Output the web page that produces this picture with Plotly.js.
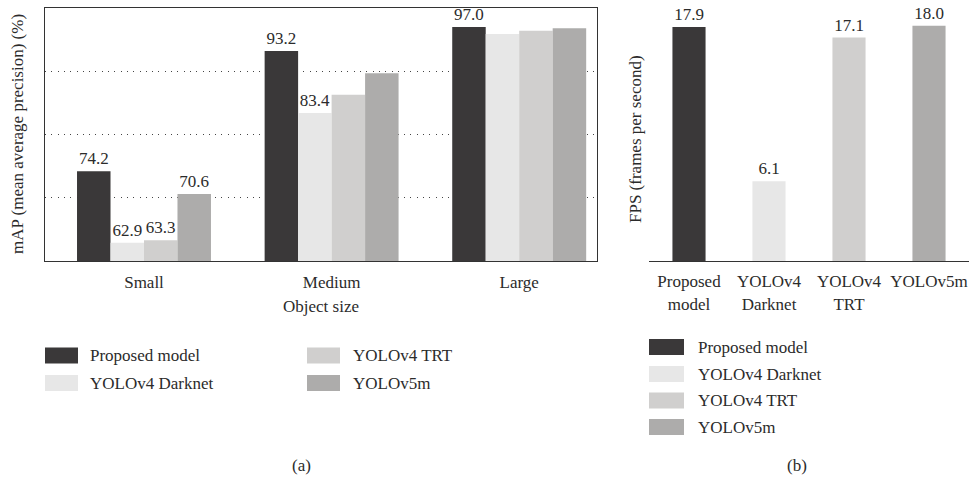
<!DOCTYPE html>
<html><head><meta charset="utf-8">
<script src="https://cdn.plot.ly/plotly-3.0.1.min.js"></script>
<style>html,body{margin:0;padding:0;background:#fff}</style>
</head><body><div id="chart" style="width:969px;height:479px"></div>
<script>
// ---- data ----
const sizeCategories = ['Small', 'Medium', 'Large'];
const seriesNames = ['Proposed model', 'YOLOv4 Darknet', 'YOLOv4 TRT', 'YOLOv5m'];
const seriesColors = ['#3a3839', '#e7e7e7', '#d0cfce', '#adacab'];
const mapProposed = [74.2, 93.2, 97.0];
const mapDarknet = [62.9, 83.4, 95.9];
const mapTRT = [63.3, 86.3, 96.4];
const mapV5m = [70.6, 89.7, 96.8];
const mapLabelsProposed = ['74.2', '93.2', '97.0'];
const mapLabelsDarknet = ['62.9', '83.4', ''];
const mapLabelsTRT = ['63.3', '', ''];
const mapLabelsV5m = ['70.6', '', ''];
const fpsCategories = ['Proposed<br>model', 'YOLOv4<br>Darknet', 'YOLOv4<br>TRT', 'YOLOv5m'];
const fpsValues = [17.9, 6.1, 17.1, 18.0];
const fpsLabels = ['17.9', '6.1', '17.1', '18.0'];

// ---- layout helpers ----
const W = 969, H = 479;
const px = x => x / W;
const py = y => 1 - y / H;
const FONT = "Liberation Serif";
const TXT = '#2b2b2b';
const FS = 17;

const mapSeries = [mapProposed, mapDarknet, mapTRT, mapV5m];
const mapLabels = [mapLabelsProposed, mapLabelsDarknet, mapLabelsTRT, mapLabelsV5m];
const groupW = 0.714, barW = groupW / 4;

const traces = mapSeries.map((vals, i) => ({
  type: 'bar', x: sizeCategories, y: vals, name: seriesNames[i],
  xaxis: 'x', yaxis: 'y',
  width: barW, offset: -groupW / 2 + i * barW,
  marker: {color: seriesColors[i], line: {width: 0}},
  text: mapLabels[i], textposition: 'outside', cliponaxis: false,
  constraintext: 'none',
  textfont: {family: FONT, size: FS, color: TXT},
  showlegend: false, hoverinfo: 'none'
}));

traces.push({
  type: 'bar', x: fpsCategories, y: fpsValues,
  xaxis: 'x2', yaxis: 'y2',
  width: 0.414,
  marker: {color: seriesColors, line: {width: 0}},
  text: fpsLabels, textposition: 'outside', cliponaxis: false,
  constraintext: 'none',
  textfont: {family: FONT, size: FS, color: TXT},
  showlegend: false, hoverinfo: 'none'
});

const shapes = [];
const annotations = [];
function legendItem(sx, sw, cy, color, label, tx) {
  shapes.push({type: 'rect', xref: 'paper', yref: 'paper',
    x0: px(sx), x1: px(sx + sw), y0: py(cy + 8), y1: py(cy - 8),
    fillcolor: color, line: {width: 0}});
  annotations.push({xref: 'paper', yref: 'paper', x: px(tx), y: py(cy),
    xanchor: 'left', yanchor: 'middle', text: label, showarrow: false,
    font: {family: FONT, size: FS, color: TXT}});
}
// legend (a): two columns
legendItem(45, 33, 355.5, seriesColors[0], seriesNames[0], 88);
legendItem(45, 33, 383, seriesColors[1], seriesNames[1], 88);
legendItem(307, 33, 355.5, seriesColors[2], seriesNames[2], 351);
legendItem(307, 33, 383, seriesColors[3], seriesNames[3], 351);
// legend (b): one column
[347, 374, 400.5, 427].forEach((cy, i) => legendItem(649, 35, cy, seriesColors[i], seriesNames[i], 696));

function label(x, y, text, angle) {
  annotations.push({xref: 'paper', yref: 'paper', x: px(x), y: py(y),
    xanchor: 'center', yanchor: 'middle', text: text, showarrow: false,
    textangle: angle || 0, font: {family: FONT, size: FS, color: TXT}});
}
label(17, 134, 'mAP (mean average precision) (%)', -90);
label(635, 139, 'FPS (frames per second)', -90);
label(321, 306, 'Object size');
label(301, 465, '(a)');
label(797, 465, '(b)');

const layout = {
  width: W, height: H,
  margin: {l: 0, r: 0, t: 0, b: 0},
  paper_bgcolor: '#fff', plot_bgcolor: '#fff',
  barmode: 'overlay',
  xaxis: {
    domain: [px(45), px(597)], anchor: 'y',
    type: 'category', range: [-0.5277, 2.4147],
    showline: true, mirror: true, linecolor: '#333', linewidth: 1,
    ticks: 'outside', ticklen: 6, tickcolor: 'rgba(0,0,0,0)',
    tickfont: {family: FONT, size: FS, color: TXT},
    showgrid: false, zeroline: false, fixedrange: true
  },
  yaxis: {
    domain: [py(261), py(8)], anchor: 'x',
    range: [60, 100],
    showline: true, mirror: true, linecolor: '#333', linewidth: 1,
    tickvals: [70, 80, 90], showticklabels: false, ticks: '',
    showgrid: true, gridcolor: '#444', gridwidth: 1, griddash: '1px,5.3px',
    zeroline: false, fixedrange: true
  },
  xaxis2: {
    domain: [px(649), 1], anchor: 'y2',
    type: 'category', range: [-0.5, 3.5],
    showline: true, mirror: false, linecolor: '#333', linewidth: 1,
    ticks: 'outside', ticklen: 5, tickcolor: 'rgba(0,0,0,0)',
    tickfont: {family: FONT, size: FS, color: TXT},
    showgrid: false, zeroline: false, fixedrange: true
  },
  yaxis2: {
    domain: [py(261), py(8)], anchor: 'x2',
    range: [0, 19.36],
    showline: false, showticklabels: false, ticks: '',
    showgrid: false, zeroline: false, fixedrange: true
  },
  shapes: shapes,
  annotations: annotations,
  showlegend: false
};

Plotly.newPlot('chart', traces, layout, {displayModeBar: false, staticPlot: true});
</script>
</body></html>
